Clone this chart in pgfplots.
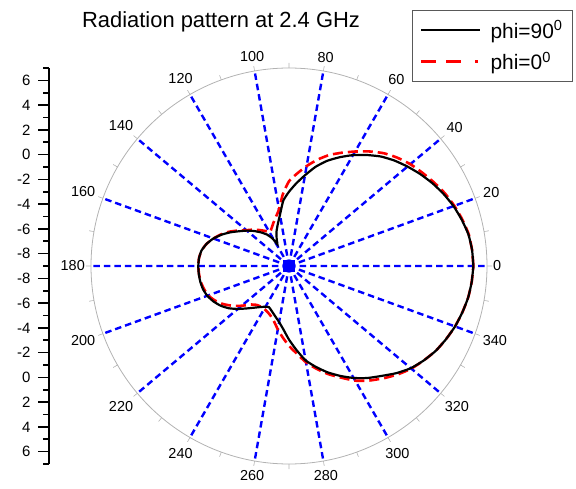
\documentclass[border=0pt]{standalone}
\usepackage{pgfplots}
\pgfplotsset{compat=1.18}
\usepackage{pgfplotstable}
\usepgfplotslibrary{polar}
\usepackage{fontspec}
\setmainfont{Liberation Sans}

% gain in dB against angle (deg)
\pgfplotstableread{
ang val
0 5.90
5 5.85
10 5.72
15 5.45
20 5.15
25 4.78
30 4.38
35 3.95
40 3.50
45 3.05
50 2.55
55 1.95
60 1.35
65 0.70
70 0.05
75 -0.70
80 -1.55
85 -2.30
90 -3.00
95 -3.70
100 -4.80
105 -5.50
110 -6.05
115 -6.65
118 -7.00
121 -6.40
125 -5.90
130 -5.45
135 -5.00
140 -4.55
145 -4.10
150 -3.55
155 -3.00
160 -2.50
165 -2.10
170 -1.82
175 -1.70
180 -1.67
185 -1.68
190 -1.72
195 -1.80
200 -1.97
205 -2.25
210 -2.60
215 -3.05
220 -3.60
225 -4.15
230 -4.60
235 -4.95
240 -5.20
244 -5.30
248 -5.15
252 -4.95
256 -4.70
260 -4.40
265 -3.85
270 -3.05
275 -2.20
280 -1.25
285 -0.55
290 0.15
295 0.80
300 1.45
305 2.05
310 2.60
315 3.25
320 3.85
325 4.30
330 4.70
335 5.00
340 5.28
345 5.50
350 5.70
355 5.82
360 5.90
}\phininety

\pgfplotstableread{
ang val
0 5.90
5 5.85
10 5.75
15 5.50
20 5.22
25 4.90
30 4.52
35 4.15
40 3.80
45 3.38
50 2.90
55 2.30
60 1.68
65 1.10
70 0.55
75 -0.10
80 -0.80
85 -1.50
90 -2.15
95 -3.20
100 -4.35
105 -4.90
110 -5.30
115 -5.65
119 -5.85
123 -5.65
127 -5.40
130 -5.20
135 -4.85
140 -4.50
145 -4.00
150 -3.45
155 -2.95
160 -2.50
165 -2.10
170 -1.82
175 -1.70
180 -1.67
185 -1.70
190 -1.75
195 -1.88
200 -2.05
205 -2.40
210 -2.85
215 -3.40
220 -4.00
225 -4.60
230 -4.90
235 -5.00
240 -5.00
245 -4.90
250 -4.70
255 -4.35
260 -3.80
265 -3.20
270 -2.55
275 -1.90
280 -1.10
285 -0.40
290 0.30
295 0.95
300 1.70
305 2.30
310 2.85
315 3.40
320 3.90
325 4.30
330 4.70
335 5.00
340 5.28
345 5.50
350 5.70
355 5.82
360 5.90
}\phizero

\begin{document}
\begin{tikzpicture}
\path[use as bounding box] (0bp,0bp) rectangle (576bp,489bp);

% radial scale on the left, with the legend
\begin{axis}[
    at={(49bp,25bp)}, anchor=south west,
    scale only axis, width=525bp, height=396bp,
    xmin=0, xmax=1, ymin=-16, ymax=16,
    hide x axis, axis y line*=left,
    ytick={-15,-13,...,15},
    yticklabels={6,4,2,0,-2,-4,-6,-8,-8,-6,-4,-2,0,2,4,6},
    minor ytick={-16,-14,...,16},
    tick align=outside,
    major tick length=11bp, minor tick length=6bp,
    every tick/.style={black, line width=1.6bp},
    y axis line style={line width=2bp},
    yticklabel style={font=\fontsize{15}{18}\selectfont, xshift=-4bp},
    legend style={at={(0.998,1.146)}, anchor=north east, draw=gray!70!black,
        line width=0.8bp, font=\fontsize{21}{25}\selectfont,
        inner xsep=8bp, inner ysep=8bp, row sep=8bp},
    legend cell align=left,
    legend image code/.code={\draw[#1] (0bp,0bp) -- (59bp,0bp);},
]
\addlegendimage{black, line width=2.4bp}
\addlegendentry{\hspace{7bp}phi=90\textsuperscript{0}}
\addlegendimage{red, line width=2.6bp, dash pattern=on 15bp off 10bp on 15bp off 14bp on 3bp off 20bp}
\addlegendentry{\hspace{7bp}phi=0\textsuperscript{0}}
\end{axis}

\begin{polaraxis}[
    at={(289bp,223bp)}, anchor=center,
    scale only axis, width=396bp, height=396bp,
    xmin=0, xmax=360, ymin=0, ymax=16,
    xtick={0,20,...,340},
    minor xtick={10,30,...,350},
    ytick=\empty,
    xmajorgrids,
    grid style={blue, line width=2.4bp},
    major grid style={blue, line width=2.4bp, dash pattern=on 6.5bp off 4bp},
    axis line style={gray!60, line width=0.8bp},
    y axis line style={draw=none},
    tick align=inside,
    major tick length=5bp, minor tick length=5bp,
    every tick/.style={gray!60, line width=0.6bp},
    xticklabel style={font=\fontsize{14.5}{17}\selectfont, inner sep=6bp},
    /pgf/number format/assume math mode=true,
]
\addplot[blue, only marks, mark=square*, mark size=5.5bp] coordinates {(0,0)};
\addplot[red, line width=2.6bp, dash pattern=on 10bp off 5bp, smooth, tension=0.3]
    table[x=ang, y expr=\thisrow{val}+9] {\phizero};
\addplot[black, line width=2.2bp, smooth, tension=0.3]
    table[x=ang, y expr=\thisrow{val}+9] {\phininety};
\end{polaraxis}

\node[font=\fontsize{22}{26}\selectfont] at (221bp,467bp) {Radiation pattern at 2.4 GHz};
\end{tikzpicture}
\end{document}
